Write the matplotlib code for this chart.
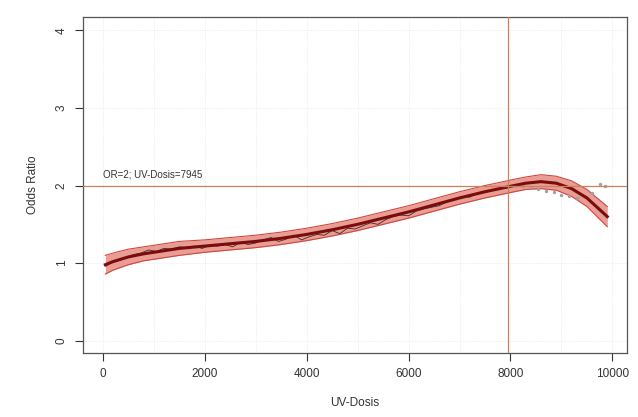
import matplotlib.pyplot as plt
import numpy as np

plt.rcParams['font.family'] = ['Liberation Sans', 'DejaVu Sans']

# fitted spline
dose = [50, 200, 500, 800, 1000, 1500, 2000, 2500, 3000, 3500, 4000, 4500,
        5000, 5500, 6000, 6500, 7000, 7500, 8000, 8300, 8600, 8900, 9200,
        9500, 9700, 9900]
odds = [0.98, 1.02, 1.08, 1.12, 1.14, 1.19, 1.22, 1.25, 1.28, 1.32, 1.37, 1.43,
        1.50, 1.58, 1.66, 1.75, 1.84, 1.92, 1.99, 2.03, 2.05, 2.03, 1.96,
        1.84, 1.72, 1.60]
lower = [0.86, 0.91, 0.98, 1.03, 1.05, 1.10, 1.14, 1.17, 1.20, 1.24, 1.29, 1.35,
         1.42, 1.50, 1.58, 1.67, 1.76, 1.84, 1.91, 1.95, 1.96, 1.94, 1.86,
         1.73, 1.60, 1.47]
upper = [1.10, 1.13, 1.18, 1.21, 1.23, 1.28, 1.30, 1.33, 1.36, 1.40, 1.45, 1.51,
         1.58, 1.66, 1.74, 1.83, 1.92, 2.00, 2.07, 2.11, 2.14, 2.12, 2.06,
         1.95, 1.84, 1.73]

# raw (jagged) observed ratios
obs_x = [60, 150, 300, 450, 600, 750, 900, 1050, 1200, 1350, 1500, 1650, 1800,
         1950, 2100, 2250, 2400, 2550, 2700, 2850, 3000, 3150, 3300, 3450, 3600,
         3750, 3900, 4050, 4200, 4350, 4500, 4650, 4800, 4950, 5100, 5250, 5400,
         5550, 5700, 5850, 6000, 6150, 6300, 6450, 6600, 6750, 6900, 7050, 7200,
         7350, 7500, 7650, 7800, 7950]
obs_y = [0.96, 1.00, 1.03, 1.07, 1.11, 1.13, 1.17, 1.15, 1.19, 1.18, 1.21, 1.20,
         1.22, 1.19, 1.23, 1.22, 1.24, 1.21, 1.27, 1.24, 1.26, 1.30, 1.33, 1.28,
         1.31, 1.36, 1.30, 1.34, 1.37, 1.36, 1.42, 1.38, 1.45, 1.44, 1.48, 1.52,
         1.50, 1.56, 1.60, 1.62, 1.61, 1.67, 1.70, 1.72, 1.74, 1.79, 1.82, 1.86,
         1.85, 1.90, 1.91, 1.94, 1.96, 1.97]
tail_x = [8100, 8250, 8400, 8550, 8700, 8850, 9000, 9150, 9300, 9450, 9600, 9750, 9850]
tail_y = [1.99, 2.00, 1.98, 1.96, 1.93, 1.92, 1.88, 1.86, 1.84, 1.86, 1.90, 2.02, 2.00]

or_level = 2
or_dose = 7945

fig, ax = plt.subplots(figsize=(6.38, 4.17), dpi=100)
fig.subplots_adjust(left=0.130, right=0.983, bottom=0.153, top=0.959)

ax.set_xticks(np.arange(0, 10001, 1000), minor=True)
ax.grid(True, which='both', color='#e6e6e6', lw=0.6, ls=':')
ax.set_axisbelow(True)

ax.fill_between(dose, lower, upper, color='#e8928a', alpha=0.9, lw=0, zorder=2)
ax.plot(dose, lower, color='#d0473d', lw=0.8, zorder=3)
ax.plot(dose, upper, color='#d0473d', lw=0.8, zorder=3)
ax.plot(obs_x, obs_y, color='#3a2a2a', lw=0.6, zorder=4)
ax.scatter(tail_x, tail_y, s=2, color='#a0a0a0', zorder=4)
ax.plot(dose, odds, color='#7a0c0c', lw=2.2, zorder=5)

ax.axhline(or_level, color='#c8825a', lw=0.9, zorder=6)
ax.axvline(or_dose, color='#c8825a', lw=0.9, zorder=6)
ax.text(0, 2.1, 'OR=2; UV-Dosis=7945', fontsize=7, color='#333333')

ax.set_xlim(-390, 10290)
ax.set_ylim(-0.16, 4.17)
ax.set_xticks(np.arange(0, 10001, 2000))
ax.set_yticks([0, 1, 2, 3, 4])
ax.set_yticklabels(['0', '1', '2', '3', '4'], rotation=90, va='center')
ax.tick_params(length=6, width=0.8, colors='#333333', labelsize=8.5, pad=5)
ax.tick_params(which='minor', length=0)
for s in ax.spines.values():
    s.set_color('#555555')
    s.set_linewidth(0.9)

ax.set_xlabel('UV-Dosis', fontsize=8.5, color='#333333', labelpad=12)
ax.set_ylabel('Odds Ratio', fontsize=8.5, color='#333333', labelpad=12)

fig.savefig('out.png', dpi=100)
